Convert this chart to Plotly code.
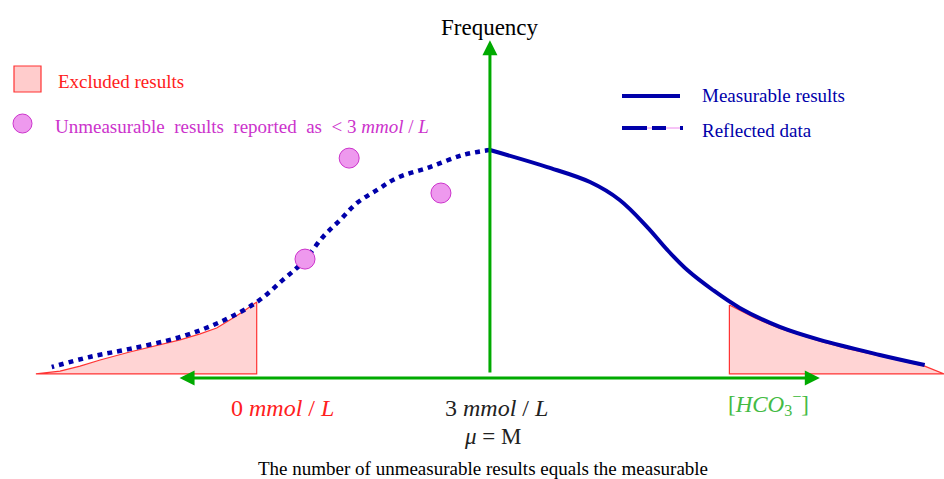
import plotly.graph_objects as go

# ==========================================
# DATA (x in mmol/L, y = relative frequency)
# ==========================================

measured_x = [3.0, 3.83, 4.45, 4.88, 5.28, 5.57, 5.86, 6.23, 6.62, 7.20, 7.78, 8.65, 9.30]
measured_y = [1.0, 0.924, 0.857, 0.777, 0.656, 0.554, 0.464, 0.375, 0.295, 0.210, 0.152, 0.085, 0.040]

reflected_x = [3.0, 2.61, 2.13, 1.65, 1.36, 1.07, 0.83, 0.58, 0.29, 0.0, -0.38, -0.91, -1.49, -2.22, -2.80, -3.35]
reflected_y = [1.0, 0.978, 0.924, 0.875, 0.821, 0.763, 0.688, 0.612, 0.500, 0.420, 0.321, 0.232, 0.165, 0.112, 0.076, 0.031]

excl_left_x = [-3.58, -3.23, -2.94, -2.65, -2.22, -1.78, -1.49, -1.20, -0.96, -0.77, -0.58, -0.38, -0.38, -3.58]
excl_left_y = [0.0, 0.013, 0.035, 0.0625, 0.098, 0.129, 0.152, 0.179, 0.205, 0.241, 0.278, 0.321, 0.0, 0.0]

excl_right_x = [6.47, 6.84, 7.20, 7.50, 7.78, 8.20, 8.65, 9.00, 9.30, 9.58, 6.47, 6.47]
excl_right_y = [0.308, 0.250, 0.203, 0.172, 0.146, 0.112, 0.080, 0.058, 0.035, 0.0, 0.0, 0.308]

unmeas_x = [0.96, 2.29, 0.32]
unmeas_y = [0.964, 0.808, 0.513]

BLUE = "#0000AA"
GREEN = "#00AA00"
RED = "#FF2020"
MAGENTA = "#CC33CC"
SERIF = "Liberation Serif"

fig = go.Figure()

# excluded regions
for xs, ys in [(excl_left_x, excl_left_y), (excl_right_x, excl_right_y)]:
    fig.add_trace(go.Scatter(
        x=xs, y=ys, mode='lines', fill='toself',
        fillcolor='rgba(255,170,170,0.5)',
        line=dict(color='#FF3333', width=1.2),
        hoverinfo='skip', showlegend=False
    ))

# reflected data
fig.add_trace(go.Scatter(
    x=reflected_x, y=reflected_y, mode='lines',
    line=dict(color=BLUE, width=4.5, dash='5px,5px', shape='spline'),
    showlegend=False
))

# measurable results
fig.add_trace(go.Scatter(
    x=measured_x, y=measured_y, mode='lines',
    line=dict(color=BLUE, width=4, shape='spline'),
    showlegend=False
))

# unmeasurable results
fig.add_trace(go.Scatter(
    x=unmeas_x, y=unmeas_y, mode='markers',
    marker=dict(size=20, color='#EE99EE', line=dict(color=MAGENTA, width=1)),
    showlegend=False
))

# axes arrows
fig.add_annotation(x=3, y=1.49, ax=3, ay=0, xref='x', yref='y', axref='x', ayref='y',
                   showarrow=True, arrowhead=2, arrowsize=1, arrowwidth=3,
                   arrowcolor=GREEN, text='')
fig.add_annotation(x=7.78, y=-0.018, ax=-1.52, ay=-0.018, xref='x', yref='y',
                   axref='x', ayref='y', showarrow=True, arrowhead=2, startarrowhead=2,
                   arrowside='end+start', arrowsize=1, arrowwidth=3,
                   arrowcolor=GREEN, text='')

# axis labels
fig.add_annotation(x=3, y=1.545, text='Frequency', showarrow=False,
                   font=dict(family=SERIF, size=23, color='black'))
fig.add_annotation(x=0, y=-0.152, text='0 <i>mmol</i> / <i>L</i>', showarrow=False,
                   font=dict(family=SERIF, size=24, color=RED))
fig.add_annotation(x=3.1, y=-0.152, text='3 <i>mmol</i> / <i>L</i>', showarrow=False,
                   font=dict(family=SERIF, size=24, color='#222222'))
fig.add_annotation(x=7.04, y=-0.13, text='[<i>HCO</i><sub>3</sub><sup>−</sup>]', showarrow=False,
                   font=dict(family=SERIF, size=23, color='#44BB44'))
fig.add_annotation(x=3.03, y=-0.281, text='<i>μ</i> = M', showarrow=False,
                   font=dict(family=SERIF, size=23, color='#222222'))
fig.add_annotation(x=2.9, y=-0.42, text='The number of unmeasurable results equals the measurable',
                   showarrow=False, font=dict(family=SERIF, size=19, color='black'))

# manual legends
fig.add_shape(type='rect', xref='paper', yref='paper',
              x0=14 / 944, x1=41 / 944, y0=1 - 92 / 479, y1=1 - 66 / 479,
              fillcolor='rgba(255,170,170,0.6)', line=dict(color='#FF3333', width=1.2))
fig.add_annotation(xref='paper', yref='paper', x=56 / 944, y=1 - 82 / 479,
                   xanchor='left', yanchor='middle',
                   text='Excluded results', showarrow=False,
                   font=dict(family=SERIF, size=19, color=RED))
fig.add_shape(type='circle', xref='paper', yref='paper',
              x0=13 / 944, x1=32 / 944, y0=1 - 133 / 479, y1=1 - 114 / 479,
              fillcolor='#EE99EE', line=dict(color=MAGENTA, width=1))
fig.add_annotation(xref='paper', yref='paper', x=53 / 944, y=1 - 126 / 479,
                   xanchor='left', yanchor='middle',
                   text='Unmeasurable  results  reported  as  &lt; 3 <i>mmol</i> / <i>L</i>', showarrow=False,
                   font=dict(family=SERIF, size=19, color=MAGENTA))
fig.add_shape(type='line', xref='paper', yref='paper',
              x0=622 / 944, x1=680 / 944, y0=1 - 96 / 479, y1=1 - 96 / 479,
              line=dict(color=BLUE, width=4))
fig.add_annotation(xref='paper', yref='paper', x=700 / 944, y=1 - 96 / 479,
                   xanchor='left', yanchor='middle',
                   text='Measurable results', showarrow=False,
                   font=dict(family=SERIF, size=19, color=BLUE))
fig.add_shape(type='line', xref='paper', yref='paper',
              x0=622 / 944, x1=683 / 944, y0=1 - 128 / 479, y1=1 - 128 / 479,
              line=dict(color='#EE88EE', width=1))
fig.add_shape(type='line', xref='paper', yref='paper',
              x0=622 / 944, x1=683 / 944, y0=1 - 128 / 479, y1=1 - 128 / 479,
              line=dict(color=BLUE, width=4, dash='25px,5px,14px,14px,3px'))
fig.add_annotation(xref='paper', yref='paper', x=700 / 944, y=1 - 130 / 479,
                   xanchor='left', yanchor='middle',
                   text='Reflected data', showarrow=False,
                   font=dict(family=SERIF, size=19, color=BLUE))

fig.update_layout(
    width=944, height=479,
    margin=dict(l=0, r=0, t=0, b=0),
    paper_bgcolor='white', plot_bgcolor='white',
    xaxis=dict(range=[-4.10, 9.58], visible=False, fixedrange=True),
    yaxis=dict(range=[-0.469, 1.67], visible=False, fixedrange=True),
    showlegend=False
)

fig.write_html("out.html", config={'displayModeBar': False},
               post_script="document.body.style.margin='0px';document.body.style.overflow='hidden';")
